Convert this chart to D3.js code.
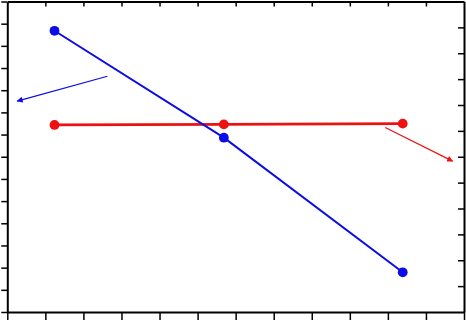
<!DOCTYPE html>
<html>
<head>
<meta charset="utf-8">
<script src="https://cdn.jsdelivr.net/npm/d3@7"></script>
<style>
  html, body { margin: 0; padding: 0; background: #fff; }
  svg { display: block; }
</style>
</head>
<body>
<div id="chart"></div>
<script>
// data
const xValues = [1.24, 5.69, 10.39];
const blueValues = [12.68, 7.86, 1.79];   // left axis
const redValues = [7.23, 7.25, 7.28];     // right axis

const xTicks = d3.range(0, 13);
const leftTicks = d3.range(0, 15);
const rightTicks = d3.range(0, 13);

// annotation arrows, in data units: [x1, y1, x2, y2]
const blueArrow = [2.63, 10.63, 0.26, 9.51];
const redArrow = [9.93, 7.13, 11.7, 5.83];

const width = 466, height = 321;
const plotLeft = 7.3, plotRight = 464, plotTop = 1.5, plotBottom = 312;

const svg = d3.select('#chart').append('svg')
  .attr('width', width)
  .attr('height', height);

const x = d3.scaleLinear().domain([0, 12]).range([plotLeft, plotRight]);
const yL = d3.scaleLinear().domain([0, 14]).range([plotBottom, plotTop]);
const yR = d3.scaleLinear().domain([0, 12]).range([plotBottom, plotTop]);

const blue = '#0c0ce4';
const red = '#ee1111';

// arrow heads
const defs = svg.append('defs');
[['ah-blue', blue], ['ah-red', red]].forEach(([id, c]) => {
  defs.append('marker')
    .attr('id', id)
    .attr('viewBox', '0 0 10 10')
    .attr('refX', 9).attr('refY', 5)
    .attr('markerWidth', 7).attr('markerHeight', 6)
    .attr('markerUnits', 'userSpaceOnUse')
    .attr('orient', 'auto')
    .append('path')
    .attr('d', 'M0,0 L10,5 L0,10 Z')
    .attr('fill', c);
});

// axes (no labels, just the frame with ticks)
function styleAxis(g) {
  g.selectAll('text').remove();
  g.select('.domain').attr('stroke', '#000').attr('stroke-width', 2);
  g.selectAll('.tick line').attr('stroke', '#000').attr('stroke-width', 1.5);
}

svg.append('g')
  .attr('transform', `translate(0,${plotBottom})`)
  .call(d3.axisBottom(x).tickValues(xTicks).tickSize(8).tickSizeOuter(0).tickFormat(''))
  .call(styleAxis);

svg.append('g')
  .attr('transform', `translate(0,${plotTop})`)
  .call(d3.axisTop(x).tickValues(xTicks.slice(1, -1)).tickSize(-5).tickSizeOuter(0).tickFormat(''))
  .call(styleAxis);

svg.append('g')
  .attr('transform', `translate(${plotLeft},0)`)
  .call(d3.axisLeft(yL).tickValues(leftTicks).tickSize(6).tickSizeOuter(0).tickFormat(''))
  .call(styleAxis);

svg.append('g')
  .attr('transform', `translate(${plotRight},0)`)
  .call(d3.axisRight(yR).tickValues(rightTicks.slice(1, -1)).tickSize(-6).tickSizeOuter(0).tickFormat(''))
  .call(styleAxis);

// series
function drawSeries(values, yScale, color, lw) {
  const pts = xValues.map((v, i) => [v, values[i]]);
  svg.append('path')
    .datum(pts)
    .attr('fill', 'none')
    .attr('stroke', color)
    .attr('stroke-width', lw)
    .attr('d', d3.line().x(d => x(d[0])).y(d => yScale(d[1])));
  svg.selectAll(null)
    .data(pts)
    .enter()
    .append('circle')
    .attr('cx', d => x(d[0]))
    .attr('cy', d => yScale(d[1]))
    .attr('r', 4.9)
    .attr('fill', color);
}

drawSeries(redValues, yR, red, 2.6);
drawSeries(blueValues, yL, blue, 2);

// arrows pointing at the matching axis
svg.append('line')
  .attr('x1', x(blueArrow[0])).attr('y1', yL(blueArrow[1]))
  .attr('x2', x(blueArrow[2])).attr('y2', yL(blueArrow[3]))
  .attr('stroke', blue).attr('stroke-width', 1.2)
  .attr('marker-end', 'url(#ah-blue)');

svg.append('line')
  .attr('x1', x(redArrow[0])).attr('y1', yR(redArrow[1]))
  .attr('x2', x(redArrow[2])).attr('y2', yR(redArrow[3]))
  .attr('stroke', red).attr('stroke-width', 1.2)
  .attr('marker-end', 'url(#ah-red)');
</script>
</body>
</html>
